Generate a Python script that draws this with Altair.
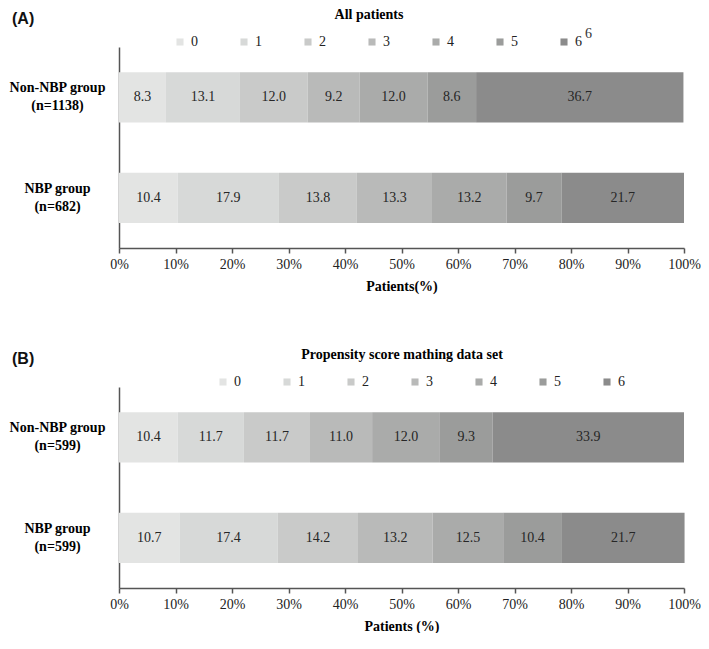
import altair as alt
import pandas as pd

scores = ["0", "1", "2", "3", "4", "5", "6"]
colors = ["#e3e4e3", "#d7d9d8", "#c9cac9", "#b9bab9", "#aaabaa", "#9b9c9b", "#8b8b8b"]

groups_a = ["Non-NBP group|(n=1138)", "NBP group|(n=682)"]
non_nbp_a = [8.3, 13.1, 12.0, 9.2, 12.0, 8.6, 36.7]
nbp_a = [10.4, 17.9, 13.8, 13.3, 13.2, 9.7, 21.7]

groups_b = ["Non-NBP group|(n=599)", "NBP group|(n=599)"]
non_nbp_b = [10.4, 11.7, 11.7, 11.0, 12.0, 9.3, 33.9]
nbp_b = [10.7, 17.4, 14.2, 13.2, 12.5, 10.4, 21.7]

x_ticks = [0, 10, 20, 30, 40, 50, 60, 70, 80, 90, 100]

SERIF = "Liberation Serif"
SANS = "Liberation Sans"
AXC = "#555555"


def make_df(groups, rows):
    recs = []
    for g, vals in zip(groups, rows):
        for s, v in zip(scores, vals):
            recs.append({"group": g, "score": s, "value": v, "ord": int(s)})
    return pd.DataFrame(recs)


def panel(letter, title, title_x, groups, rows, xtitle, legend_x):
    df = make_df(groups, rows)
    base = alt.Chart(df).transform_stack(
        stack="value", groupby=["group"], as_=["v0", "v1"],
        sort=[alt.SortField("ord", order="ascending")]
    ).transform_calculate(mid="(datum.v0 + datum.v1) / 2")

    y = alt.Y(
        "group:N", sort=groups, title=None,
        scale=alt.Scale(paddingInner=0.5, paddingOuter=0.25),
        axis=alt.Axis(
            ticks=False, tickSize=0, labelExpr="split(datum.label, '|')",
            labelAlign="center", labelPadding=62, labelOffset=-9,
            labelFont=SERIF, labelFontSize=14, labelFontWeight="bold",
            labelLineHeight=18, labelColor="#000000", domainColor=AXC,
            domainWidth=1.5,
        ),
    )

    bars = base.mark_bar().encode(
        x=alt.X(
            "v0:Q", title=xtitle, scale=alt.Scale(domain=[0, 100], nice=False),
            axis=alt.Axis(
                values=x_ticks, labelExpr="datum.value + '%'", grid=False,
                labelFlush=False, labelOverlap=False,
                tickSize=5, tickColor=AXC, tickWidth=1.5, domainColor=AXC,
                domainWidth=1.5, labelFont=SERIF, labelFontSize=14,
                labelColor="#222222", labelPadding=4, titleFont=SERIF,
                titleFontSize=14, titleFontWeight="bold", titleColor="#000000",
                titlePadding=8,
            ),
        ),
        x2="v1:Q",
        y=y,
        color=alt.Color(
            "score:N",
            scale=alt.Scale(domain=scores, range=colors),
            legend=alt.Legend(
                orient="none", legendX=legend_x, legendY=-12,
                direction="horizontal", title=None, symbolType="square",
                symbolSize=50, symbolStrokeWidth=0, labelFont=SERIF,
                labelFontSize=14, labelColor="#222222", columnPadding=39,
                labelOffset=4, padding=0,
            ),
        ),
        order=alt.Order("ord:Q"),
    )

    labels = base.mark_text(
        font=SERIF, fontSize=14, color="#262626", baseline="middle"
    ).encode(
        x=alt.X("mid:Q"),
        y=alt.Y("group:N", sort=groups),
        text=alt.Text("value:Q", format=".1f"),
    )

    ann = alt.Chart(pd.DataFrame({"t": [letter]})).mark_text(
        font=SANS, fontSize=16, fontWeight="bold", align="left",
        baseline="middle", color="#111111"
    ).encode(text="t:N", x=alt.value(-107), y=alt.value(-28))

    ttl = alt.Chart(pd.DataFrame({"t": [title]})).mark_text(
        font=SERIF, fontSize=14, fontWeight="bold", align="center",
        baseline="middle", color="#000000"
    ).encode(text="t:N", x=alt.value(title_x), y=alt.value(-32))

    layers = [bars, labels, ann, ttl]
    return alt.layer(*layers).properties(width=565, height=201)


pa = panel("(A)", "All patients", 250, groups_a, [non_nbp_a, nbp_a],
           "Patients(%)", 54)
stray = alt.Chart(pd.DataFrame({"t": ["6"]})).mark_text(
    font=SERIF, fontSize=14, align="left", baseline="middle", color="#333333"
).encode(text="t:N", x=alt.value(466), y=alt.value(-13))
pa = alt.layer(pa, stray)

pb = panel("(B)", "Propensity score mathing data set", 283, groups_b,
           [non_nbp_b, nbp_b], "Patients (%)", 97)

chart = alt.vconcat(pa, pb, spacing=55).resolve_scale(color="independent").configure_view(
    stroke=None
).properties(padding=0)

chart.save("out.html", embed_options={"renderer": "svg", "actions": False})
